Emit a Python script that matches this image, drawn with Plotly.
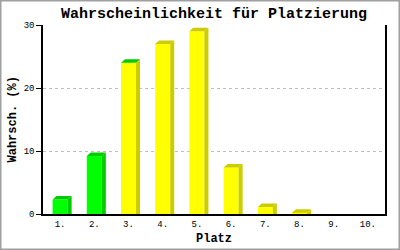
import plotly.graph_objects as go

# ---- data ----
places = [1, 2, 3, 4, 5, 6, 7, 8, 9, 10]
place_labels = ["1.", "2.", "3.", "4.", "5.", "6.", "7.", "8.", "9.", "10."]
probabilities = [2.3, 9.2, 24.0, 27.0, 29.0, 7.4, 1.1, 0.2, 0.0, 0.0]
is_green = [True, True, False, False, False, False, False, False, False, False]

# ---- styling ----
FRONT_GREEN, SIDE_GREEN = "#00ff00", "#00cc00"
FRONT_YEL, SIDE_YEL = "#ffff00", "#cccc00"
MONO = "Liberation Mono, DejaVu Sans Mono, monospace"

W, H = 400, 250
ML, MR, MT, MB = 43, 15, 25, 36
pw, ph = W - ML - MR, H - MT - MB
YMAX = 30
bar_w = 0.44
dx = 4.0 / (pw / 10.0)        # depth in x data units (4 px)
dy = 3.5 / (ph / YMAX)        # depth in y data units (3.5 px)

front_colors = [FRONT_GREEN if g else FRONT_YEL for g in is_green]
side_colors = [SIDE_GREEN if g else SIDE_YEL for g in is_green]
top_colors = list(side_colors)
top_colors[2] = SIDE_GREEN   # quirk in the reference: bar 3 top face is green

fig = go.Figure()

for x, v, sc, tc in zip(places, probabilities, side_colors, top_colors):
    if v <= 0:
        continue
    xl, xr = x - bar_w / 2, x + bar_w / 2
    # side face
    fig.add_trace(go.Scatter(
        x=[xr, xr + dx, xr + dx, xr, xr],
        y=[0, 0, v + dy, v, 0],
        mode="lines", fill="toself", fillcolor=sc,
        line=dict(width=0, color=sc), hoverinfo="skip", showlegend=False))
    # top face
    fig.add_trace(go.Scatter(
        x=[xl, xl + dx, xr + dx, xr, xl],
        y=[v, v + dy, v + dy, v, v],
        mode="lines", fill="toself", fillcolor=tc,
        line=dict(width=0, color=tc), hoverinfo="skip", showlegend=False))

fig.add_trace(go.Bar(
    x=places, y=probabilities, width=bar_w,
    marker=dict(color=front_colors, line=dict(width=0)),
    showlegend=False, hoverinfo="skip"))

fig.update_layout(
    width=W, height=H,
    margin=dict(l=ML, r=MR, t=MT, b=MB),
    paper_bgcolor="white", plot_bgcolor="white",
    title=dict(text="Wahrscheinlichkeit für Platzierung",
               font=dict(family=MONO, size=15, color="black", weight="bold"),
               x=0.5, xanchor="center", xref="paper",
               y=1 - 12.5 / H, yanchor="middle", yref="container"),
    xaxis=dict(range=[0.5, 10.5], tickvals=places, ticktext=place_labels,
               showgrid=False, zeroline=False, showline=True,
               linecolor="black", linewidth=1.5, ticks="",
               tickfont=dict(family=MONO, size=9, color="black")),
    yaxis=dict(range=[0, YMAX], dtick=10, showgrid=True,
               gridcolor="#c0c0c0", griddash="3px,3px", gridwidth=1,
               zeroline=False, showline=True, mirror=True,
               linecolor="black", linewidth=1.5,
               ticks="outside", ticklen=5, tickcolor="black",
               tickfont=dict(family=MONO, size=9, color="black")),
    annotations=[
        dict(text="<b>Wahrsch. (%)</b>", xref="paper", yref="paper",
             x=(12 - ML) / pw, y=0.5, xanchor="center", yanchor="middle",
             textangle=-90, showarrow=False,
             font=dict(family=MONO, size=12, color="black")),
        dict(text="<b>Platz</b>", xref="paper", yref="paper",
             x=0.5, y=(MT + ph - 239) / ph + 0.0, xanchor="center", yanchor="middle",
             showarrow=False, font=dict(family=MONO, size=12, color="black")),
    ],
    shapes=[dict(type="rect", xref="paper", yref="paper",
                 x0=(0.5 - ML) / pw, x1=(W - 0.5 - ML) / pw,
                 y0=-(H - 0.5 - MT - ph) / ph, y1=1 + (MT - 0.5) / ph,
                 line=dict(color="#a0a0a0", width=2), layer="above")],
)

fig.write_html("out.html")
